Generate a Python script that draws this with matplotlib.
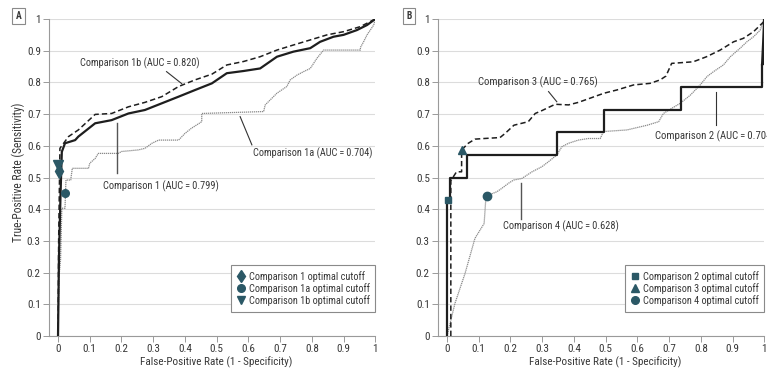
import matplotlib
matplotlib.use("Agg")
import matplotlib.pyplot as plt
from matplotlib.lines import Line2D
from matplotlib import font_manager as fm

# pick the narrowest available sans family (reference uses a condensed face)
_installed = {f.name for f in fm.fontManager.ttflist}
FONT, FS = 'DejaVu Sans', 6.2
for _cand, _size in [('Liberation Sans Narrow', 7.6), ('Roboto Condensed', 7.4),
                     ('DejaVu Sans Condensed', 6.7), ('Liberation Sans', 6.7)]:
    if _cand in _installed:
        FONT, FS = _cand, _size
        break
plt.rcParams['font.family'] = [FONT, 'DejaVu Sans']
plt.rcParams['font.size'] = FS

# ---------------- data ----------------
# Panel A
comp1_x = [0, 0.003, 0.008, 0.012, 0.022, 0.054, 0.064, 0.117, 0.169, 0.222, 0.274, 0.327, 0.380,
           0.432, 0.485, 0.532, 0.585, 0.637, 0.690, 0.742, 0.795, 0.826, 0.868, 0.9, 0.942, 0.974, 1.0]
comp1_y = [0, 0.25, 0.45, 0.581, 0.608, 0.618, 0.629, 0.671, 0.681, 0.702, 0.713, 0.734, 0.755,
           0.776, 0.797, 0.829, 0.836, 0.844, 0.881, 0.897, 0.908, 0.928, 0.944, 0.95, 0.965, 0.981, 1.0]

comp1b_x = [0, 0.002, 0.006, 0.033, 0.064, 0.117, 0.169, 0.222, 0.274, 0.327, 0.380, 0.432,
            0.485, 0.532, 0.585, 0.637, 0.690, 0.742, 0.795, 0.848, 0.9, 0.953, 1.0]
comp1b_y = [0, 0.3, 0.592, 0.629, 0.650, 0.699, 0.702, 0.723, 0.737, 0.755, 0.787, 0.808,
            0.826, 0.855, 0.866, 0.881, 0.902, 0.918, 0.934, 0.950, 0.960, 0.976, 1.0]

comp1a_x = [0, 0.003, 0.008, 0.012, 0.022, 0.025, 0.04, 0.045, 0.096, 0.10, 0.117, 0.127, 0.19,
            0.20, 0.253, 0.274, 0.296, 0.317, 0.38, 0.40, 0.42, 0.453, 0.453, 0.648, 0.653, 0.669,
            0.69, 0.721, 0.732, 0.753, 0.774, 0.795, 0.816, 0.837, 0.953, 0.953, 0.963, 0.974,
            0.995, 1.0]
comp1a_y = [0, 0.187, 0.24, 0.403, 0.403, 0.492, 0.492, 0.529, 0.529, 0.545, 0.560, 0.576, 0.576,
            0.582, 0.587, 0.592, 0.608, 0.618, 0.618, 0.639, 0.655, 0.676, 0.702, 0.708, 0.729,
            0.745, 0.766, 0.787, 0.808, 0.823, 0.834, 0.844, 0.876, 0.902, 0.902, 0.91, 0.928,
            0.95, 0.981, 1.0]

cut1 = (0.003, 0.52)    # Comparison 1 optimal cutoff
cut1a = (0.022, 0.45)   # Comparison 1a optimal cutoff
cut1b = (0.001, 0.539)  # Comparison 1b optimal cutoff

# Panel B
comp2_x = [0, 0, 0.008, 0.062, 0.346, 0.495, 0.737, 0.993, 1.0]
comp2_y = [0, 0.429, 0.5, 0.571, 0.643, 0.714, 0.786, 0.857, 1.0]

comp3_x = [0.012, 0.012, 0.03, 0.046, 0.046, 0.067, 0.088, 0.117, 0.167, 0.183, 0.211, 0.256,
           0.278, 0.299, 0.341, 0.383, 0.414, 0.456, 0.495, 0.535, 0.588, 0.640, 0.672, 0.690,
           0.708, 0.776, 0.818, 0.861, 0.903, 0.934, 0.966, 0.998, 1.0]
comp3_y = [0, 0.49, 0.518, 0.518, 0.587, 0.608, 0.621, 0.623, 0.626, 0.639, 0.665, 0.676,
           0.702, 0.711, 0.731, 0.729, 0.737, 0.752, 0.766, 0.776, 0.792, 0.797, 0.808, 0.82,
           0.860, 0.865, 0.881, 0.902, 0.928, 0.939, 0.96, 0.991, 1.0]

comp4_x = [0, 0.025, 0.057, 0.088, 0.117, 0.122, 0.127, 0.157, 0.173, 0.194, 0.21, 0.236, 0.268,
           0.299, 0.320, 0.346, 0.362, 0.383, 0.414, 0.445, 0.483, 0.493, 0.567, 0.631, 0.667,
           0.682, 0.708, 0.735, 0.767, 0.798, 0.819, 0.840, 0.871, 0.893, 0.924, 0.945, 0.966,
           0.987, 1.0]
comp4_y = [0, 0.103, 0.198, 0.308, 0.355, 0.429, 0.443, 0.455, 0.466, 0.482, 0.492, 0.497, 0.518,
           0.534, 0.550, 0.571, 0.597, 0.608, 0.618, 0.623, 0.623, 0.645, 0.65, 0.665, 0.676,
           0.702, 0.718, 0.734, 0.760, 0.792, 0.818, 0.834, 0.855, 0.881, 0.908, 0.928, 0.944,
           0.965, 1.0]

cut2 = (0.004, 0.429)
cut3 = (0.046, 0.587)
cut4 = (0.127, 0.443)

ticks = [0, 0.1, 0.2, 0.3, 0.4, 0.5, 0.6, 0.7, 0.8, 0.9, 1]
tick_labels = ['0', '0.1', '0.2', '0.3', '0.4', '0.5', '0.6', '0.7', '0.8', '0.9', '1']

labels_A = ['Comparison 1 optimal cutoff', 'Comparison 1a optimal cutoff', 'Comparison 1b optimal cutoff']
labels_B = ['Comparison 2 optimal cutoff', 'Comparison 3 optimal cutoff', 'Comparison 4 optimal cutoff']

# ---------------- styling ----------------
MK = '#2b5866'
DARK = '#1e1e1e'
GRAYLINE = '#8a8a8a'
SPINE = '#9a9a9a'
TXT = '#383838'
EQ = '\u2009=\u2009'

W, H = 767, 372
fig = plt.figure(figsize=(W / 100, H / 100), dpi=100)
axA = fig.add_axes([48.5 / W, 36 / H, 326.8 / W, 317 / H])
axB = fig.add_axes([437.5 / W, 36 / H, 326.8 / W, 317 / H])


def style(ax):
    ax.set_xlim(-0.03, 1.0)
    ax.set_ylim(0, 1)
    ax.set_xticks(ticks)
    ax.set_xticklabels(tick_labels)
    ax.set_yticks(ticks)
    ax.set_yticklabels(tick_labels)
    for s in ['top', 'right']:
        ax.spines[s].set_visible(False)
    for s in ['left', 'bottom']:
        ax.spines[s].set_color(SPINE)
        ax.spines[s].set_linewidth(0.8)
    ax.tick_params(axis='both', colors=SPINE, labelcolor=TXT, labelsize=FS, length=4, width=0.7, pad=1.5)
    ax.yaxis.grid(True, color='#dcdcdc', linewidth=0.8)
    ax.set_axisbelow(True)
    ax.set_xlabel('False-Positive Rate (1 - Specificity)', color=TXT, fontsize=FS)
    ax.xaxis.set_label_coords(0.5146, -0.084)
    ax.xaxis.label.set_va('center')


style(axA)
style(axB)
axA.set_ylabel('True-Positive Rate (Sensitivity)', color=TXT, fontsize=FS)
axA.yaxis.set_label_coords(-0.0933, 0.516)
axA.yaxis.label.set_va('center')

# Panel A curves
axA.plot(comp1a_x, comp1a_y, color=GRAYLINE, lw=0.9, ls=(0, (1, 0.6)), zorder=2)
axA.plot(comp1b_x, comp1b_y, color=DARK, lw=1.1, ls=(0, (3.5, 2)), zorder=3)
axA.plot(comp1_x, comp1_y, color=DARK, lw=1.6, zorder=4)
axA.plot(*cut1, marker='d', color=MK, ms=7, ls='none', zorder=6)
axA.plot(*cut1a, marker='o', color=MK, ms=5.5, ls='none', zorder=6)
axA.plot(*cut1b, marker='v', color=MK, ms=6.5, ls='none', zorder=6)

# annotations A
tA1b = axA.text(0.259, 0.861, 'Comparison 1b (AUC' + EQ + '0.820)', ha='center', va='center', color=TXT)
axA.plot([0.342, 0.390], [0.834, 0.796], color='#333333', lw=0.8)
tA1 = axA.text(0.323, 0.473, 'Comparison 1 (AUC' + EQ + '0.799)', ha='center', va='center', color=TXT)
axA.plot([0.187, 0.187], [0.671, 0.513], color='#555555', lw=1.0)
tA1a = axA.text(0.803, 0.576, 'Comparison 1a (AUC' + EQ + '0.704)', ha='center', va='center', color=TXT)
axA.plot([0.574, 0.611], [0.692, 0.603], color='#333333', lw=0.8)

# Panel B curves
axB.plot(comp4_x, comp4_y, color=GRAYLINE, lw=0.9, ls=(0, (1, 0.6)), zorder=2)
axB.plot(comp3_x, comp3_y, color=DARK, lw=1.1, ls=(0, (3.5, 2)), zorder=3)
axB.plot(comp2_x, comp2_y, color=DARK, lw=1.6, drawstyle='steps-post', zorder=4)
axB.plot([comp2_x[-2], comp2_x[-1]], [comp2_y[-2], comp2_y[-1]], color=DARK, lw=1.6, zorder=4)
axB.plot(*cut2, marker='s', color=MK, ms=5, ls='none', zorder=6)
axB.plot(*cut3, marker='^', color=MK, ms=6, ls='none', zorder=6)
axB.plot(*cut4, marker='o', color=MK, ms=6, ls='none', zorder=6)

tB3 = axB.text(0.287, 0.802, 'Comparison 3 (AUC' + EQ + '0.765)', ha='center', va='center', color=TXT)
axB.plot([0.320, 0.346], [0.771, 0.739], color='#333333', lw=0.8)
tB2 = axB.text(0.656, 0.629, 'Comparison 2 (AUC' + EQ + '0.704)', ha='left', va='center', color=TXT,
               clip_on=False)
axB.plot([0.849, 0.849], [0.771, 0.666], color='#333333', lw=0.8)
tB4 = axB.text(0.359, 0.345, 'Comparison 4 (AUC' + EQ + '0.628)', ha='center', va='center', color=TXT)
axB.plot([0.232, 0.232], [0.482, 0.368], color='#555555', lw=1.0)


# legends
def legend(ax, markers, sizes, labels):
    handles = [Line2D([], [], marker=m, color=MK, ls='none', ms=s) for m, s in zip(markers, sizes)]
    lg = ax.legend(handles, labels, loc='lower right', bbox_to_anchor=(1.0, 0.077), borderaxespad=0,
                   fancybox=False, frameon=True, fontsize=FS, handlelength=0.8, handletextpad=0.35,
                   labelspacing=0.12, borderpad=0.55, framealpha=1)
    lg.get_frame().set_edgecolor('#8a8a8a')
    lg.get_frame().set_linewidth(0.8)
    for t in lg.get_texts():
        t.set_color(TXT)
    return lg


lgA = legend(axA, ['d', 'o', 'v'], [6, 5.5, 6], labels_A)
lgB = legend(axB, ['s', '^', 'o'], [5, 6, 5.5], labels_B)

# panel letters
bbox = dict(boxstyle='square,pad=0.35', fc='white', ec='#8a8a8a', lw=0.8)
fig.text(18.5 / W, 1 - 16 / H, 'A', ha='center', va='center', fontsize=FS - 0.5, fontweight='bold',
         color=TXT, bbox=bbox)
fig.text(409 / W, 1 - 16 / H, 'B', ha='center', va='center', fontsize=FS - 0.5, fontweight='bold',
         color=TXT, bbox=bbox)

# ---- match text widths (in pixels) measured on the reference ----
fig.canvas.draw()
rend = fig.canvas.get_renderer()


def fit(t, target, use_height=False):
    bb = t.get_window_extent(rend)
    cur = bb.height if use_height else bb.width
    t.set_fontsize(t.get_fontsize() * target / cur)
    return t.get_fontsize()


fit(tA1b, 120)
fit(tA1, 115)
fit(tA1a, 119)
fsB3 = fit(tB3, 120.5)
tB2.set_fontsize(fsB3)
fit(tB4, 115)
fit(axA.xaxis.label, 152)
axB.xaxis.label.set_fontsize(axA.xaxis.label.get_fontsize())
fit(axA.yaxis.label, 139, use_height=True)
fs_leg = fit(lgA.get_texts()[1], 121)
for t in list(lgA.get_texts()) + list(lgB.get_texts()):
    t.set_fontsize(fs_leg)
tl = [t for t in axA.get_yticklabels() if t.get_text() == '0.8'][0]
fs_tick = tl.get_fontsize() * 14.0 / tl.get_window_extent(rend).width
for ax in (axA, axB):
    ax.tick_params(labelsize=fs_tick)

fig.savefig('out.png', dpi=100)
